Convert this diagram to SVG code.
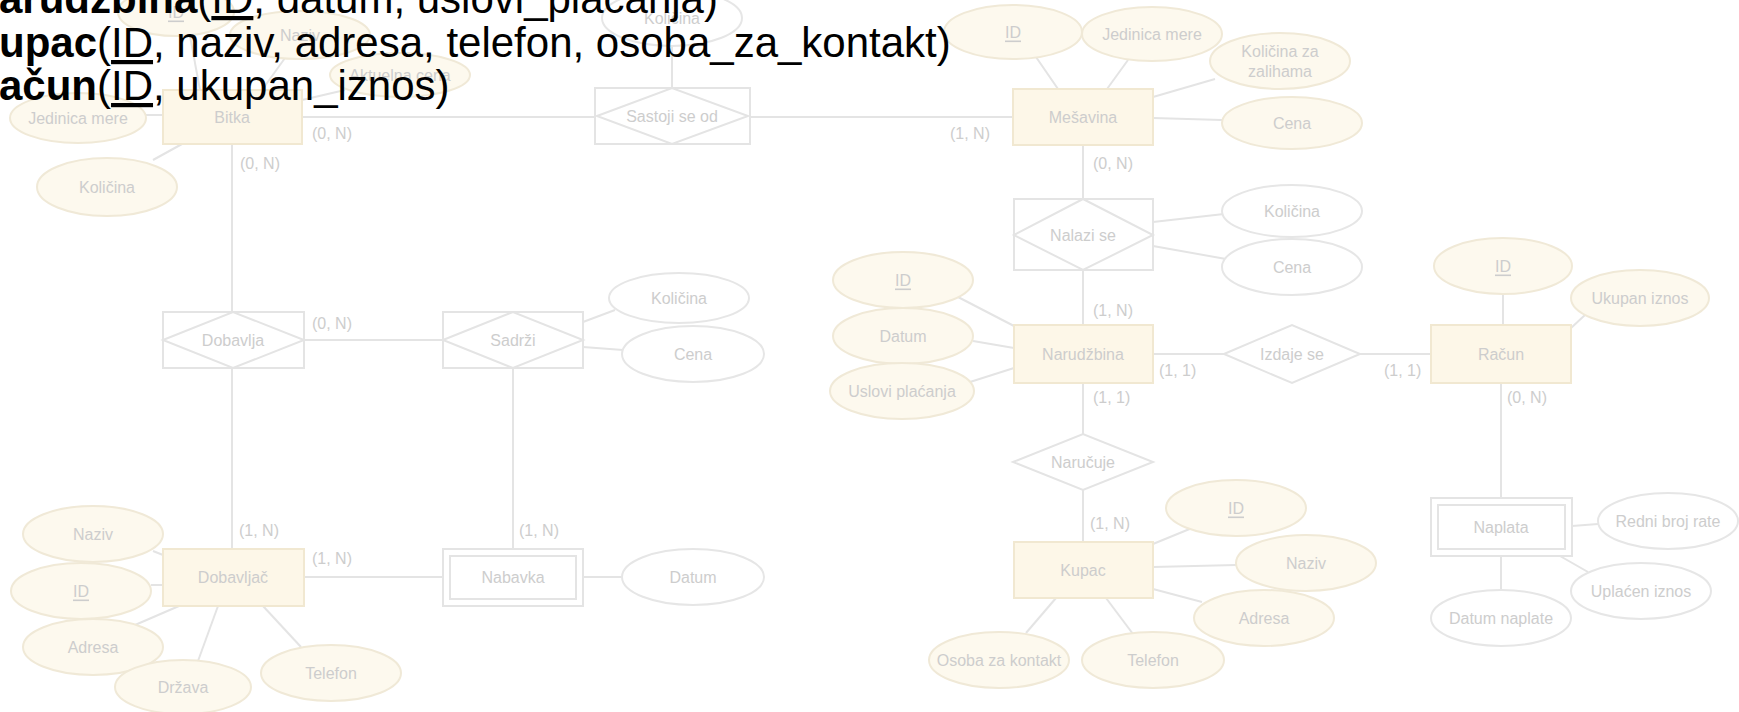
<svg xmlns="http://www.w3.org/2000/svg" width="1739" height="712" viewBox="0 0 1739 712">
<style>
.bg{fill:#ffffff}
.ent{fill:#fdf7e8;stroke:#f1e8d1;stroke-width:2}
.rel{fill:#ffffff;stroke:#e4e4e4;stroke-width:2}
.attr{fill:#fdf9ee;stroke:#f0e9d7;stroke-width:2}
.wattr{fill:#ffffff;stroke:#e6e6e6;stroke-width:2}
.ln{stroke:#e4e4e4;stroke-width:2;fill:none}
.t{font-family:"Liberation Sans",Arial,sans-serif;font-size:16px;fill:#cdcdcd;text-anchor:middle;dominant-baseline:central}
.c{font-family:"Liberation Sans",Arial,sans-serif;font-size:16px;fill:#cdcdcd}
.u{text-decoration:underline}
.hd{font-family:"Liberation Sans",Arial,sans-serif;font-size:42px;fill:#000000}
.b{font-weight:bold}
</style>
<rect class="bg" x="0" y="0" width="1739" height="712"/>

<g id="connectors">
<line class="ln" x1="302" y1="117" x2="595" y2="117"/>
<line class="ln" x1="750" y1="117" x2="1013" y2="117"/>
<line class="ln" x1="672" y1="46" x2="672" y2="88"/>
<line class="ln" x1="232" y1="144" x2="232" y2="312"/>
<line class="ln" x1="232" y1="368" x2="232" y2="549"/>
<line class="ln" x1="304" y1="340" x2="443" y2="340"/>
<line class="ln" x1="513" y1="368" x2="513" y2="549"/>
<line class="ln" x1="304" y1="577" x2="443" y2="577"/>
<line class="ln" x1="583" y1="577" x2="622" y2="577"/>
<line class="ln" x1="583" y1="322" x2="615" y2="310"/>
<line class="ln" x1="583" y1="347" x2="623" y2="350"/>
<line class="ln" x1="1083" y1="145" x2="1083" y2="199"/>
<line class="ln" x1="1083" y1="270" x2="1083" y2="325"/>
<line class="ln" x1="1153" y1="222" x2="1224" y2="214"/>
<line class="ln" x1="1153" y1="246" x2="1226" y2="259"/>
<line class="ln" x1="1153" y1="354" x2="1224" y2="354"/>
<line class="ln" x1="1360" y1="354" x2="1431" y2="354"/>
<line class="ln" x1="1083" y1="383" x2="1083" y2="434"/>
<line class="ln" x1="1083" y1="490" x2="1083" y2="542"/>
<line class="ln" x1="1501" y1="383" x2="1501" y2="498"/>
<line class="ln" x1="1503" y1="294" x2="1503" y2="325"/>
<line class="ln" x1="1585" y1="315" x2="1571" y2="328"/>
<line class="ln" x1="1572" y1="526" x2="1598" y2="524"/>
<line class="ln" x1="1560" y1="556" x2="1588" y2="572"/>
<line class="ln" x1="1501" y1="556" x2="1501" y2="590"/>
<line class="ln" x1="958" y1="297" x2="1014" y2="326"/>
<line class="ln" x1="973" y1="341" x2="1014" y2="348"/>
<line class="ln" x1="970" y1="382" x2="1014" y2="368"/>
<line class="ln" x1="1153" y1="544" x2="1192" y2="528"/>
<line class="ln" x1="1153" y1="567" x2="1236" y2="565"/>
<line class="ln" x1="1153" y1="589" x2="1202" y2="602"/>
<line class="ln" x1="1106" y1="598" x2="1133" y2="634"/>
<line class="ln" x1="1056" y1="598" x2="1026" y2="633"/>
<line class="ln" x1="153" y1="551" x2="163" y2="555"/>
<line class="ln" x1="151" y1="585" x2="163" y2="585"/>
<line class="ln" x1="135" y1="625" x2="179" y2="606"/>
<line class="ln" x1="198" y1="661" x2="218" y2="606"/>
<line class="ln" x1="301" y1="647" x2="263" y2="606"/>
<line class="ln" x1="1036" y1="57" x2="1058" y2="89"/>
<line class="ln" x1="1128" y1="60" x2="1107" y2="89"/>
<line class="ln" x1="1215" y1="79" x2="1153" y2="97"/>
<line class="ln" x1="1222" y1="120" x2="1153" y2="118"/>
<line class="ln" x1="146" y1="115" x2="163" y2="115"/>
<line class="ln" x1="153" y1="160" x2="182" y2="144"/>
<line class="ln" x1="190" y1="36" x2="200" y2="90"/>
<line class="ln" x1="285" y1="58" x2="262" y2="90"/>
<line class="ln" x1="345" y1="90" x2="302" y2="100"/>
<text class="c" x="312" y="139">(0, N)</text>
<text class="c" x="240" y="169">(0, N)</text>
<text class="c" x="950" y="139">(1, N)</text>
<text class="c" x="1093" y="169">(0, N)</text>
<text class="c" x="1093" y="316">(1, N)</text>
<text class="c" x="1159" y="376">(1, 1)</text>
<text class="c" x="1384" y="376">(1, 1)</text>
<text class="c" x="1093" y="403">(1, 1)</text>
<text class="c" x="1507" y="403">(0, N)</text>
<text class="c" x="1090" y="529">(1, N)</text>
<text class="c" x="312" y="329">(0, N)</text>
<text class="c" x="239" y="536">(1, N)</text>
<text class="c" x="312" y="564">(1, N)</text>
<text class="c" x="519" y="536">(1, N)</text>
</g>

<g id="bitka">
<rect class="ent" x="163" y="90" width="139" height="54"/>
<text class="t" x="232" y="117">Bitka</text>
</g>
<g id="bitka-id"><ellipse class="attr" cx="176" cy="12" rx="58" ry="24"/><text class="t u" x="176" y="12">ID</text></g>
<g id="bitka-naziv"><ellipse class="attr" cx="300" cy="35" rx="70" ry="24"/><text class="t" x="300" y="35">Naziv</text></g>
<g id="bitka-cena"><ellipse class="attr" cx="400" cy="75" rx="70" ry="22"/><text class="t" x="400" y="75">Aktuelna cena</text></g>
<g id="bitka-jedinica"><ellipse class="attr" cx="78" cy="118" rx="68" ry="25"/><text class="t" x="78" y="118">Jedinica mere</text></g>
<g id="bitka-kolicina"><ellipse class="attr" cx="107" cy="187" rx="70" ry="29"/><text class="t" x="107" y="187">Količina</text></g>

<g id="sastoji">
<rect class="rel" x="595" y="88" width="155" height="56"/>
<polygon class="rel" points="597,116 672,88 748,116 672,144"/>
<text class="t" x="672" y="116">Sastoji se od</text>
</g>
<g id="sastoji-kolicina"><ellipse class="wattr" cx="672" cy="18" rx="70" ry="28"/><text class="t" x="672" y="18">Količina</text></g>

<g id="mesavina">
<rect class="ent" x="1013" y="89" width="140" height="56"/>
<text class="t" x="1083" y="117">Mešavina</text>
</g>
<g id="mesavina-id"><ellipse class="attr" cx="1013" cy="32" rx="69" ry="27"/><text class="t u" x="1013" y="32">ID</text></g>
<g id="mesavina-jedinica"><ellipse class="attr" cx="1152" cy="34" rx="70" ry="27"/><text class="t" x="1152" y="34">Jedinica mere</text></g>
<g id="mesavina-zalihe"><ellipse class="attr" cx="1280" cy="61" rx="70" ry="28"/><text class="t" x="1280" y="51">Količina za</text><text class="t" x="1280" y="71">zalihama</text></g>
<g id="mesavina-cena"><ellipse class="attr" cx="1292" cy="123" rx="70" ry="26"/><text class="t" x="1292" y="123">Cena</text></g>

<g id="nalazi">
<rect class="rel" x="1014" y="199" width="139" height="71"/>
<polygon class="rel" points="1014,235 1083,199 1153,235 1083,270"/>
<text class="t" x="1083" y="235">Nalazi se</text>
</g>
<g id="nalazi-kolicina"><ellipse class="wattr" cx="1292" cy="211" rx="70" ry="26"/><text class="t" x="1292" y="211">Količina</text></g>
<g id="nalazi-cena"><ellipse class="wattr" cx="1292" cy="267" rx="70" ry="28"/><text class="t" x="1292" y="267">Cena</text></g>

<g id="narudzbina">
<rect class="ent" x="1014" y="325" width="139" height="58"/>
<text class="t" x="1083" y="354">Narudžbina</text>
</g>
<g id="narudzbina-id"><ellipse class="attr" cx="903" cy="280" rx="70" ry="28"/><text class="t u" x="903" y="280">ID</text></g>
<g id="narudzbina-datum"><ellipse class="attr" cx="903" cy="336" rx="70" ry="28"/><text class="t" x="903" y="336">Datum</text></g>
<g id="narudzbina-uslovi"><ellipse class="attr" cx="902" cy="391" rx="72" ry="28"/><text class="t" x="902" y="391">Uslovi plaćanja</text></g>

<g id="izdaje">
<polygon class="rel" points="1224,354 1292,325 1360,354 1292,383"/>
<text class="t" x="1292" y="354">Izdaje se</text>
</g>

<g id="racun">
<rect class="ent" x="1431" y="325" width="140" height="58"/>
<text class="t" x="1501" y="354">Račun</text>
</g>
<g id="racun-id"><ellipse class="attr" cx="1503" cy="266" rx="69" ry="28"/><text class="t u" x="1503" y="266">ID</text></g>
<g id="racun-iznos"><ellipse class="attr" cx="1640" cy="298" rx="69" ry="28"/><text class="t" x="1640" y="298">Ukupan iznos</text></g>

<g id="narucuje">
<polygon class="rel" points="1013,462 1083,434 1153,462 1083,490"/>
<text class="t" x="1083" y="462">Naručuje</text>
</g>

<g id="kupac">
<rect class="ent" x="1014" y="542" width="139" height="56"/>
<text class="t" x="1083" y="570">Kupac</text>
</g>
<g id="kupac-id"><ellipse class="attr" cx="1236" cy="508" rx="70" ry="28"/><text class="t u" x="1236" y="508">ID</text></g>
<g id="kupac-naziv"><ellipse class="attr" cx="1306" cy="563" rx="70" ry="28"/><text class="t" x="1306" y="563">Naziv</text></g>
<g id="kupac-adresa"><ellipse class="attr" cx="1264" cy="618" rx="70" ry="28"/><text class="t" x="1264" y="618">Adresa</text></g>
<g id="kupac-telefon"><ellipse class="attr" cx="1153" cy="660" rx="71" ry="28"/><text class="t" x="1153" y="660">Telefon</text></g>
<g id="kupac-osoba"><ellipse class="attr" cx="999" cy="660" rx="70" ry="28"/><text class="t" x="999" y="660">Osoba za kontakt</text></g>

<g id="naplata">
<rect class="rel" x="1431" y="498" width="141" height="58"/>
<rect class="rel" x="1438" y="505" width="127" height="44"/>
<text class="t" x="1501" y="527">Naplata</text>
</g>
<g id="naplata-redni"><ellipse class="wattr" cx="1668" cy="521" rx="70" ry="28"/><text class="t" x="1668" y="521">Redni broj rate</text></g>
<g id="naplata-iznos"><ellipse class="wattr" cx="1641" cy="591" rx="70" ry="28"/><text class="t" x="1641" y="591">Uplaćen iznos</text></g>
<g id="naplata-datum"><ellipse class="wattr" cx="1501" cy="618" rx="70" ry="28"/><text class="t" x="1501" y="618">Datum naplate</text></g>

<g id="dobavlja">
<rect class="rel" x="163" y="312" width="141" height="56"/>
<polygon class="rel" points="163,340 233,312 304,340 233,368"/>
<text class="t" x="233" y="340">Dobavlja</text>
</g>

<g id="sadrzi">
<rect class="rel" x="443" y="312" width="140" height="56"/>
<polygon class="rel" points="443,340 513,312 583,340 513,368"/>
<text class="t" x="513" y="340">Sadrži</text>
</g>
<g id="sadrzi-kolicina"><ellipse class="wattr" cx="679" cy="298" rx="70" ry="25"/><text class="t" x="679" y="298">Količina</text></g>
<g id="sadrzi-cena"><ellipse class="wattr" cx="693" cy="354" rx="71" ry="28"/><text class="t" x="693" y="354">Cena</text></g>

<g id="dobavljac">
<rect class="ent" x="163" y="549" width="141" height="57"/>
<text class="t" x="233" y="577">Dobavljač</text>
</g>
<g id="dobavljac-naziv"><ellipse class="attr" cx="93" cy="534" rx="70" ry="28"/><text class="t" x="93" y="534">Naziv</text></g>
<g id="dobavljac-id"><ellipse class="attr" cx="81" cy="591" rx="70" ry="28"/><text class="t u" x="81" y="591">ID</text></g>
<g id="dobavljac-adresa"><ellipse class="attr" cx="93" cy="647" rx="70" ry="28"/><text class="t" x="93" y="647">Adresa</text></g>
<g id="dobavljac-drzava"><ellipse class="attr" cx="183" cy="687" rx="68" ry="27"/><text class="t" x="183" y="687">Država</text></g>
<g id="dobavljac-telefon"><ellipse class="attr" cx="331" cy="673" rx="70" ry="28"/><text class="t" x="331" y="673">Telefon</text></g>

<g id="nabavka">
<rect class="rel" x="443" y="549" width="140" height="57"/>
<rect class="rel" x="450" y="556" width="126" height="43"/>
<text class="t" x="513" y="577">Nabavka</text>
</g>
<g id="nabavka-datum"><ellipse class="wattr" cx="693" cy="577" rx="71" ry="28"/><text class="t" x="693" y="577">Datum</text></g>

<g id="heading">
<text class="hd" x="-1" y="13"><tspan class="b">arudžbina</tspan>(<tspan class="u">ID</tspan>, datum, uslovi_plaćanja)</text>
<text class="hd" x="-1" y="57"><tspan class="b">upac</tspan>(<tspan class="u">ID</tspan>, naziv, adresa, telefon, osoba_za_kontakt)</text>
<text class="hd" x="-1" y="100"><tspan class="b">ačun</tspan>(<tspan class="u">ID</tspan>, ukupan_iznos)</text>
</g>
</svg>
